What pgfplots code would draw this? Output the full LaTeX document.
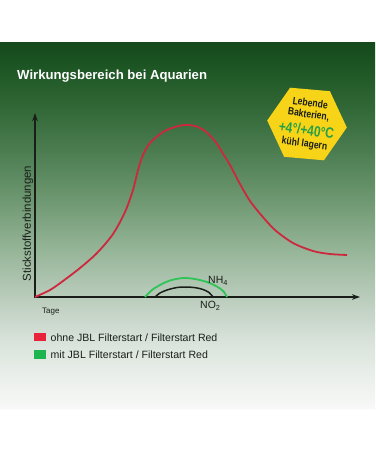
\documentclass[border=0pt]{standalone}
\usepackage{pgfplots}
\pgfplotsset{compat=1.18}
\usepackage{fontspec}
\setmainfont{Liberation Sans}
\usepackage{graphicx}
\usetikzlibrary{arrows.meta}

\definecolor{c042}{RGB}{22,74,28}
\definecolor{c060}{RGB}{26,82,33}
\definecolor{c100}{RGB}{45,100,50}
\definecolor{c150}{RGB}{75,124,80}
\definecolor{c200}{RGB}{110,152,113}
\definecolor{c250}{RGB}{150,181,152}
\definecolor{c300}{RGB}{188,206,190}
\definecolor{c340}{RGB}{216,226,218}
\definecolor{c380}{RGB}{236,240,236}
\definecolor{c408}{RGB}{247,248,247}
\definecolor{redline}{RGB}{204,40,62}
\definecolor{greenline}{RGB}{46,196,86}
\definecolor{legred}{RGB}{232,34,58}
\definecolor{leggreen}{RGB}{30,180,80}
\definecolor{hexyellow}{RGB}{247,212,23}
\definecolor{hexgreen}{RGB}{40,160,70}
\definecolor{axisdark}{RGB}{25,30,25}

\pgfdeclareverticalshading{bgsh}{100bp}{%
color(0bp)=(white); color(25bp)=(white); color(29.5bp)=(white);
color(29.667bp)=(c408); color(32.778bp)=(c380); color(37.222bp)=(c340);
color(41.667bp)=(c300); color(47.222bp)=(c250); color(52.778bp)=(c200);
color(58.333bp)=(c150); color(63.889bp)=(c100); color(68.333bp)=(c060);
color(70.333bp)=(c042); color(70.4bp)=(white); color(100bp)=(white)}

\pgfplotstableread{
x y
35 297
50 290
63 281
80 268
97 253
113 234
125 212
133 190
138 170
143 155
150 143
163 132
175 127
185 125
195 126
205 131
215 141
222 152
230 165
240 184
250 201
262 216
275 230
293 243
313 251
330 254
347 255
}\redtbl

\pgfplotstableread{
x y
145 297
152 290
160 285
170 280.5
183 278
195 279
207 282
215 285.5
220 288.5
224 292
227 297
}\greentbl

\pgfplotstableread{
x y
155 297
160 293
167 290
177 287.5
187 287
196 287.8
203 289.5
209 292.5
213 297
}\blacktbl

\newcommand{\badgetext}{\vbox{\offinterlineskip\halign{\hfil##\hfil\cr
  \vrule height 8.5pt depth 3pt width 0pt\scalebox{0.82}[1]{Lebende}\cr
  \vrule height 8.5pt depth 3pt width 0pt\scalebox{0.82}[1]{Bakterien,}\cr
  \vrule height 14.6pt depth 3.4pt width 0pt\scalebox{0.8}[1]{\fontsize{15}{16}\selectfont\color{hexgreen}+4°/+40°C}\cr
  \vrule height 8.5pt depth 3pt width 0pt\scalebox{0.82}[1]{kühl lagern}\cr}}}

\begin{document}
\begin{tikzpicture}
\begin{axis}[
  scale only axis, width=375bp, height=450bp,
  xmin=0, xmax=375, ymin=0, ymax=450, y dir=reverse,
  hide axis, clip=false,
]
\shade[shading=bgsh] (axis cs:0,0) rectangle (axis cs:375,450);

% title
\node[anchor=base west, inner sep=0, text=white, font=\fontsize{13.2}{15}\selectfont\bfseries]
  at (axis cs:17,79.5) {Wirkungsbereich bei Aquarien};

% axes
\draw[axisdark, line width=1.3bp, -{Stealth[length=8bp,width=5.5bp]}] (axis cs:35,297) -- (axis cs:35,113);
\draw[axisdark, line width=1.3bp, -{Stealth[length=8bp,width=5.5bp]}] (axis cs:34.4,297) -- (axis cs:360,297);

% curves
\addplot[redline, line width=1.8bp, smooth, no marks] table[x=x,y=y] {\redtbl};
\addplot[greenline, line width=1.8bp, smooth, no marks] table[x=x,y=y] {\greentbl};
\addplot[axisdark, line width=1.5bp, smooth, no marks] table[x=x,y=y] {\blacktbl};

% labels
\node[anchor=center, inner sep=0, rotate=90, text=axisdark, font=\fontsize{11.5}{13}\selectfont]
  at (axis cs:28,223.5) {Stickstoffverbindungen};
\node[anchor=base west, inner sep=0, text=axisdark, font=\fontsize{8}{9}\selectfont]
  at (axis cs:42,313.5) {Tage};
\node[anchor=base west, inner sep=0, text=axisdark, font=\fontsize{10.5}{12}\selectfont]
  at (axis cs:208,283.5) {NH\textsubscript{4}};
\node[anchor=base west, inner sep=0, text=axisdark, font=\fontsize{10.5}{12}\selectfont]
  at (axis cs:200,308.5) {NO\textsubscript{2}};

% legend
\fill[legred] (axis cs:34,332.5) rectangle (axis cs:46,341);
\fill[leggreen] (axis cs:34,350) rectangle (axis cs:46,358.5);
\node[anchor=base west, inner sep=0, text=axisdark, font=\fontsize{10.6}{12}\selectfont]
  at (axis cs:50.5,341) {ohne JBL Filterstart / Filterstart Red};
\node[anchor=base west, inner sep=0, text=axisdark, font=\fontsize{10.6}{12}\selectfont]
  at (axis cs:50.5,358) {mit JBL Filterstart / Filterstart Red};

% badge
\fill[hexyellow] (axis cs:346.8,127.5) -- (axis cs:329.9,91.2) -- (axis cs:290.1,87.7)
  -- (axis cs:267.2,120.5) -- (axis cs:284.1,156.8) -- (axis cs:323.9,160.3) -- cycle;
\node[rotate=-8, inner sep=0, text=axisdark, font=\bfseries\fontsize{10.5}{12}\selectfont]
  at (axis cs:307.3,124) {\badgetext};
\end{axis}
\end{tikzpicture}
\end{document}
